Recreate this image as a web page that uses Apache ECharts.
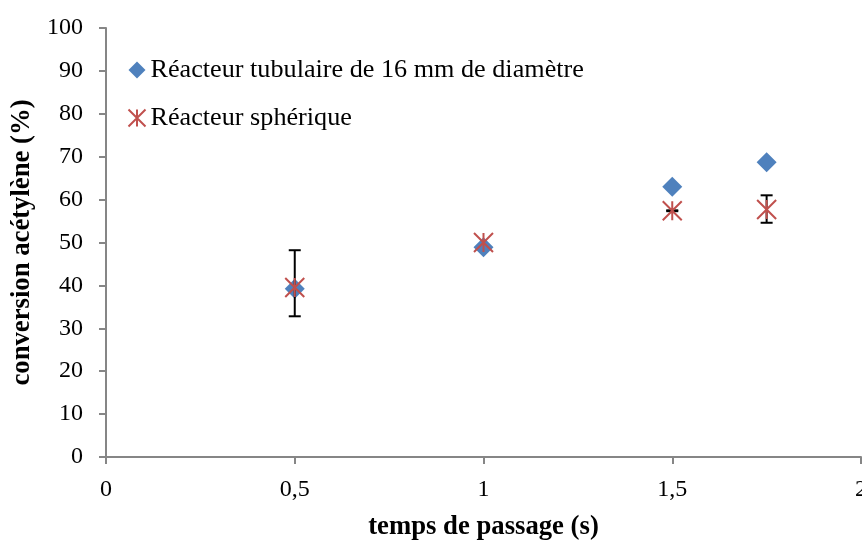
<!DOCTYPE html>
<html><head><meta charset="utf-8">
<script src="https://cdn.jsdelivr.net/npm/echarts@6/dist/echarts.min.js"></script>
<style>html,body{margin:0;padding:0;background:#fff;overflow:hidden}#c{width:862px;height:541px}</style>
</head><body><div id="c"></div>
<script>
const xTickLabels = ['0','0,5','1','1,5','2'];
const tubularX = [0.5, 1, 1.5, 1.75];
const tubularY = [39.2, 48.9, 63.0, 68.7];
const spheriqueX = [0.5, 1, 1.5, 1.75];
const spheriqueY = [39.5, 50.0, 57.4, 57.7];
// error bars: x, low, high
const errX = [0.5, 1.5, 1.75];
const errLow = [32.8, 57.3, 54.6];
const errHigh = [48.2, 57.5, 61.0];

const FONT = '"Liberation Serif", "Times New Roman", serif';
const starPath = 'path://M0,0L20,20M20,0L0,20M10,0L10,20';

const chart = echarts.init(document.getElementById('c'));
chart.setOption({
  animation: false,
  backgroundColor: '#fff',
  grid: {left: 106, right: 1, top: 28, bottom: 84, containLabel: false, outerBoundsMode: 'none'},
  legend: {
    orient: 'vertical', left: 126, top: 57, itemGap: 22, padding: 0,
    itemWidth: 17, itemHeight: 17,
    textStyle: {fontFamily: FONT, fontSize: 26.2, lineHeight: 26, color: '#000'},
    data: [
      {name: 'Réacteur tubulaire de 16 mm de diamètre', icon: 'diamond'},
      {name: 'Réacteur sphérique', icon: starPath, itemStyle: {color: 'none', borderColor: '#C0504D', borderWidth: 2}}
    ]
  },
  xAxis: {
    type: 'value', min: 0, max: 2, interval: 0.5,
    name: 'temps de passage (s)', nameLocation: 'middle', nameGap: 57,
    nameTextStyle: {fontFamily: FONT, fontSize: 26.7, fontWeight: 'bold', color: '#000'},
    axisLine: {show: true, onZero: false, lineStyle: {color: '#868686', width: 2}},
    axisTick: {show: true, inside: false, length: 7, lineStyle: {color: '#868686', width: 2}},
    axisLabel: {fontFamily: FONT, fontSize: 24, color: '#000', margin: 21,
      formatter: v => xTickLabels[Math.round(v / 0.5)]},
    splitLine: {show: false}
  },
  yAxis: {
    type: 'value', min: 0, max: 100, interval: 10,
    name: 'conversion acétylène (%)', nameLocation: 'middle', nameGap: 68,
    nameTextStyle: {fontFamily: FONT, fontSize: 26.7, fontWeight: 'bold', color: '#000'},
    axisLine: {show: true, lineStyle: {color: '#868686', width: 2}},
    axisTick: {show: true, inside: false, length: 7, lineStyle: {color: '#868686', width: 2}},
    axisLabel: {fontFamily: FONT, fontSize: 24, color: '#000', margin: 23},
    splitLine: {show: false}
  },
  series: [
    {
      name: 'Réacteur tubulaire de 16 mm de diamètre', type: 'scatter',
      symbol: 'diamond', symbolSize: 20,
      itemStyle: {color: '#4F81BD', opacity: 1},
      data: tubularX.map((x, i) => [x, tubularY[i]]), z: 2
    },
    {
      name: 'errbars', type: 'custom', z: 3,
      data: errX.map((x, i) => [x, errLow[i], errHigh[i]]),
      renderItem: (params, api) => {
        const lo = api.coord([api.value(0), api.value(1)]);
        const hi = api.coord([api.value(0), api.value(2)]);
        const w = 6;
        const st = {stroke: '#000', lineWidth: 2};
        return {type: 'group', children: [
          {type: 'line', shape: {x1: lo[0], y1: lo[1], x2: hi[0], y2: hi[1]}, style: st},
          {type: 'line', shape: {x1: lo[0]-w, y1: lo[1], x2: lo[0]+w, y2: lo[1]}, style: st},
          {type: 'line', shape: {x1: hi[0]-w, y1: hi[1], x2: hi[0]+w, y2: hi[1]}, style: st}
        ]};
      },
      encode: {x: 0, y: [1, 2]}
    },
    {
      name: 'Réacteur sphérique', type: 'scatter',
      symbol: starPath, symbolSize: 19, z: 4,
      itemStyle: {color: 'none', borderColor: '#C0504D', borderWidth: 2, opacity: 1},
      data: spheriqueX.map((x, i) => [x, spheriqueY[i]])
    }
  ]
});
</script></body></html>
